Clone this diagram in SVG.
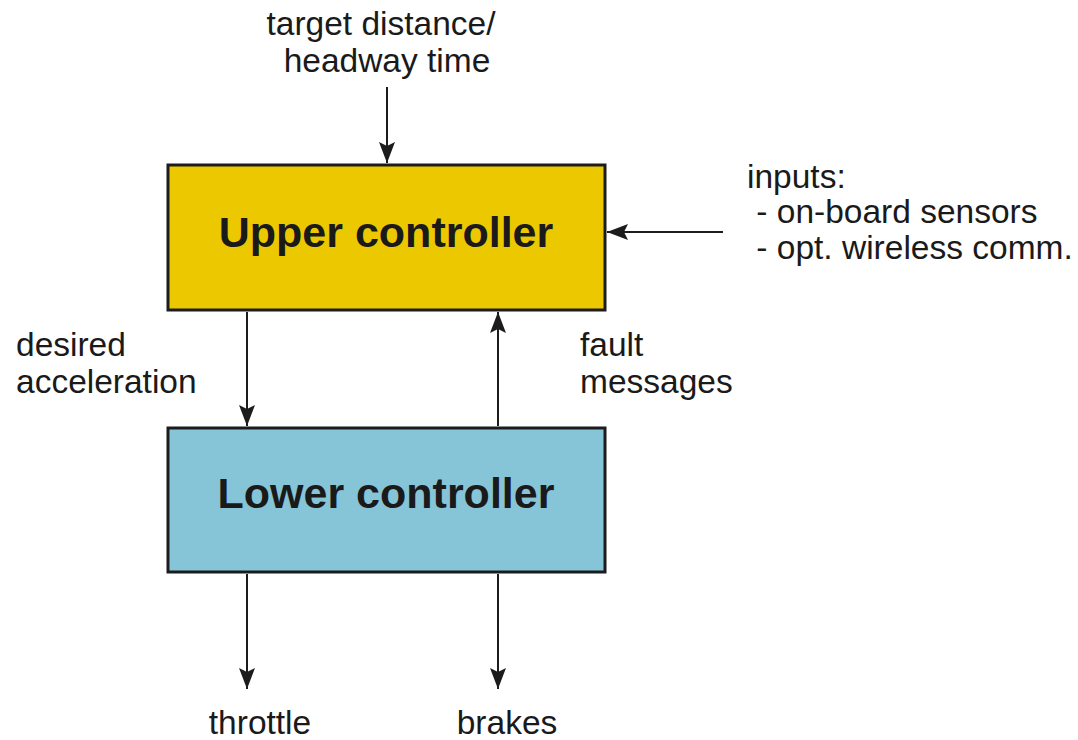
<svg xmlns="http://www.w3.org/2000/svg" width="1078" height="740" viewBox="0 0 1078 740">
  <style>
    .box { stroke: #1c1c1c; stroke-width: 3; }
    .title { font-family: "Liberation Sans", Arial, sans-serif; font-weight: bold; font-size: 43px; fill: #1a1a1a; text-anchor: middle; }
    .lbl { font-family: "Liberation Sans", Arial, sans-serif; font-size: 33.5px; fill: #1a1a1a; }
    .wire { stroke: #1c1c1c; stroke-width: 2; fill: none; marker-end: url(#head); }
  </style>
  <defs>
    <marker id="head" viewBox="0 0 21 16" refX="21" refY="8" markerWidth="21" markerHeight="16" markerUnits="userSpaceOnUse" orient="auto">
      <path d="M0,0 L21,8 L0,16 L4,8 Z" fill="#1c1c1c"/>
    </marker>
  </defs>
  <rect width="1078" height="740" fill="#ffffff"/>

  <g id="connectors">
    <line class="wire" x1="387" y1="87" x2="387" y2="163"/>
    <line class="wire" x1="723" y1="232" x2="607" y2="232"/>
    <line class="wire" x1="247" y1="312" x2="247" y2="426"/>
    <line class="wire" x1="498" y1="426" x2="498" y2="312"/>
    <line class="wire" x1="247" y1="574" x2="247" y2="689"/>
    <line class="wire" x1="498" y1="574" x2="498" y2="689"/>
  </g>

  <g id="upper-controller">
    <rect class="box" x="168" y="165" width="437" height="145" fill="#ECC800"/>
    <text class="title" x="386" y="247">Upper controller</text>
  </g>

  <g id="lower-controller">
    <rect class="box" x="168" y="428" width="437" height="144" fill="#86C5D8"/>
    <text class="title" x="386" y="508">Lower controller</text>
  </g>

  <g id="labels">
    <text class="lbl" x="381" y="35" text-anchor="middle">target distance/</text>
    <text class="lbl" x="387" y="72" text-anchor="middle">headway time</text>
    <text class="lbl" x="747" y="188">inputs:</text>
    <text class="lbl" x="747" y="223" xml:space="preserve"> - on-board sensors</text>
    <text class="lbl" x="747" y="259" xml:space="preserve"> - opt. wireless comm.</text>
    <text class="lbl" x="16" y="356">desired</text>
    <text class="lbl" x="16" y="393">acceleration</text>
    <text class="lbl" x="580" y="356">fault</text>
    <text class="lbl" x="580" y="393">messages</text>
    <text class="lbl" x="260" y="734" text-anchor="middle">throttle</text>
    <text class="lbl" x="507" y="734" text-anchor="middle">brakes</text>
  </g>
</svg>
